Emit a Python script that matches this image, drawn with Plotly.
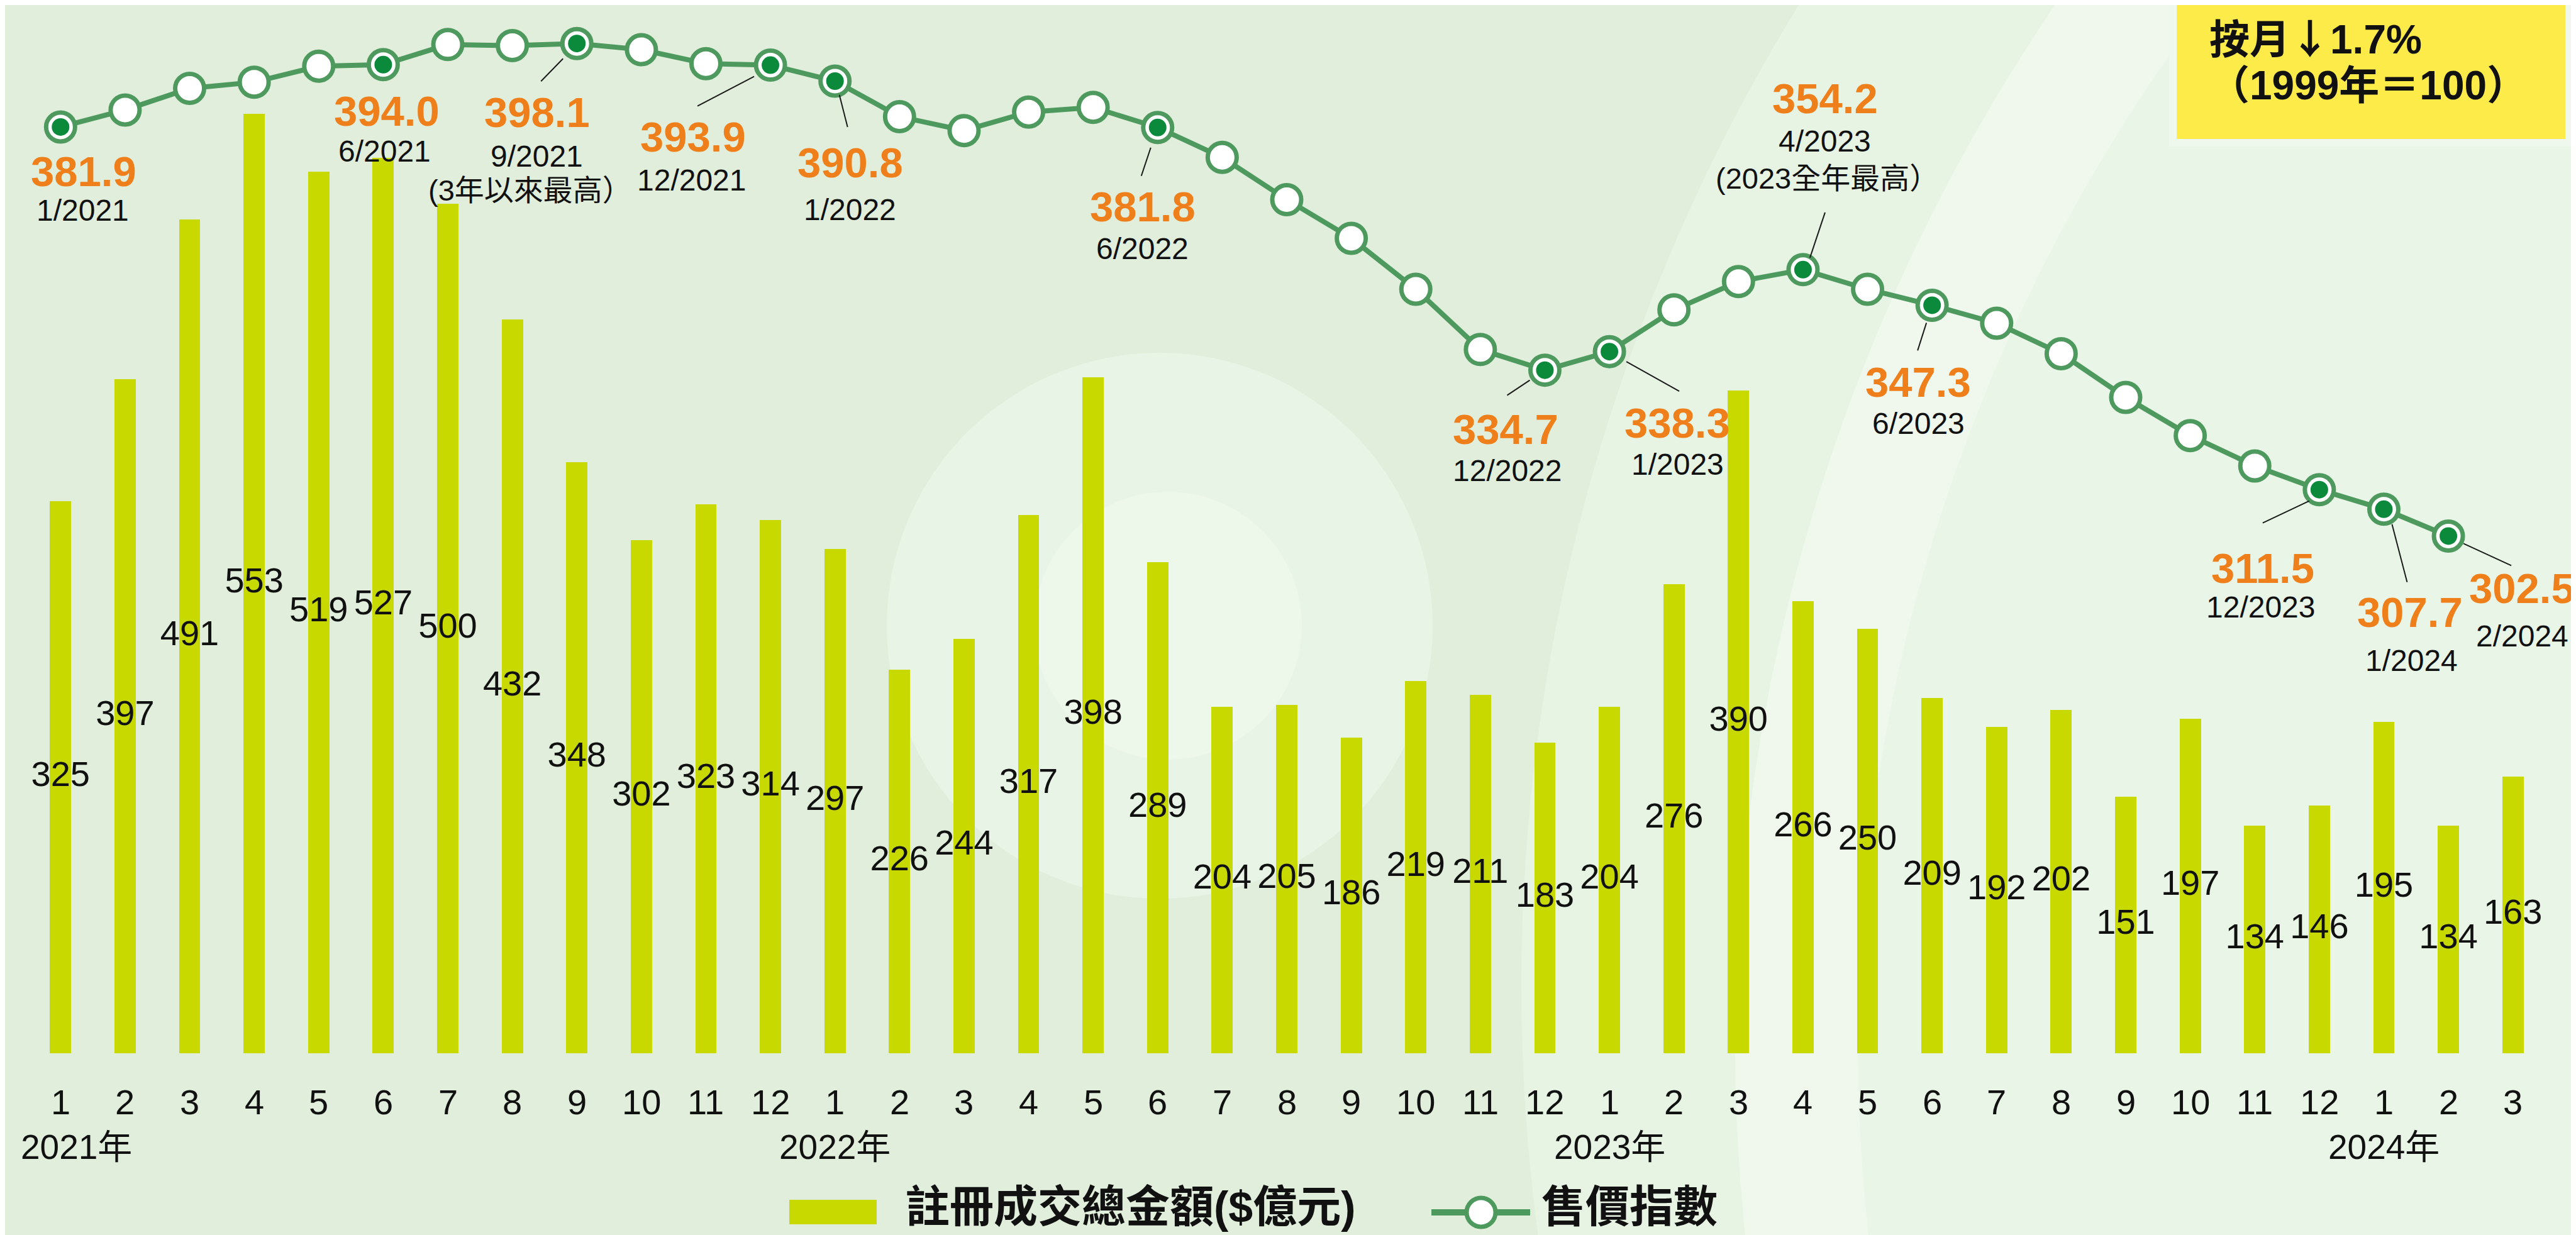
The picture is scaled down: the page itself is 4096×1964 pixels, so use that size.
import plotly.graph_objects as go

# ---------------- data ----------------
month_labels = ["1", "2", "3", "4", "5", "6", "7", "8", "9", "10", "11", "12",
                "1", "2", "3", "4", "5", "6", "7", "8", "9", "10", "11", "12",
                "1", "2", "3", "4", "5", "6", "7", "8", "9", "10", "11", "12",
                "1", "2", "3"]
year_labels = ["2021年", "2022年", "2023年", "2024年"]
year_start = [0, 12, 24, 36]
first_year = 2021

amounts = [325, 397, 491, 553, 519, 527, 500, 432, 348, 302, 323, 314,
           297, 226, 244, 317, 398, 289, 204, 205, 186, 219, 211, 183,
           204, 276, 390, 266, 250, 209, 192, 202, 151, 197, 134, 146,
           195, 134, 163]

price_index = [381.9, 385.2, 389.4, 390.6, 393.7, 394.0, 397.9, 397.7, 398.1, 396.9, 394.2, 393.9,
               390.8, 383.9, 381.2, 384.8, 385.7, 381.8, 376.0, 367.8, 360.3, 350.4, 338.7, 334.7,
               338.3, 346.4, 351.9, 354.2, 350.4, 347.3, 343.8, 337.9, 329.4, 322.0, 316.1, 311.5,
               307.7, 302.5]

highlighted = [0, 5, 8, 11, 12, 17, 23, 24, 27, 29, 35, 36, 37]
notes = {8: "(3年以來最高）", 27: "(2023全年最高）"}
box_lines = ["按月<span style=\"font-family:'Noto Sans CJK TC'\">↓</span>1.7%", "（1999年＝100）"]
legend_names = ["註冊成交總金額($億元)", "售價指數"]

# ---------------- layout / style ----------------
W, H = 4096, 1964
L, R, T, B = 37, 57, 0, 297
PW, PH = W - L - R, H - T - B

BG = "#e0eedb"
BAR = "#c8d900"
GREEN = "#4e9a5e"
DARK = "#0b8a3c"
ORANGE = "#ef7f1a"
FONT = "Liberation Sans, Noto Sans CJK TC, sans-serif"

# label offsets (output pixels, dx right, dy down) relative to the marker
label_offsets = {
    0: dict(val=(37, 71), date=(35, 133)),
    5: dict(val=(6, 74), date=(2, 138)),
    8: dict(val=(-63, 109), date=(-64, 179), note=(-74, 233), lead=((-22, 24), (-57, 60))),
    11: dict(val=(-123, 114), date=(-125, 183), lead=((-26, 18), (-116, 65))),
    12: dict(val=(24, 129), date=(24, 204), lead=((7, 22), (20, 73))),
    17: dict(val=(-24, 126), date=(-24, 193), lead=((-11, 32), (-26, 77))),
    23: dict(val=(-62, 94), date=(-59, 160), lead=((-24, 16), (-60, 40))),
    24: dict(val=(108, 113), date=(108, 179), lead=((27, 16), (111, 63))),
    27: dict(val=(35, -272), date=(35, -204), note=(39, -145), lead=((11, -19), (35, -91))),
    29: dict(val=(-22, 122), date=(-22, 188), lead=((-9, 28), (-23, 72))),
    35: dict(val=(-90, 125), date=(-93, 187), lead=((-16, 18), (-90, 53))),
    36: dict(val=(42, 164), date=(44, 241), lead=((13, 24), (37, 116))),
    37: dict(val=(117, 83), date=(117, 159), lead=((24, 12), (100, 47))),
}


def to_paper(xp, yp):
    return (xp - L) / PW, 1 - (yp - T) / PH


def circle_shape(cx, cy, r, color, line=None, lw=0, layer="below"):
    x0, y1 = to_paper(cx - r, cy - r)
    x1, y0 = to_paper(cx + r, cy + r)
    return dict(type="circle", xref="paper", yref="paper", x0=x0, x1=x1, y0=y0, y1=y1,
                fillcolor=color, line=dict(color=line or color, width=lw), layer=layer)


def rect_shape(xa, ya, xb, yb, color, layer="below"):
    x0, y1 = to_paper(xa, ya)
    x1, y0 = to_paper(xb, yb)
    return dict(type="rect", xref="paper", yref="paper", x0=x0, x1=x1, y0=y0, y1=y1,
                fillcolor=color, line=dict(width=0), layer=layer)


n = len(amounts)
xs = list(range(n))
xi = list(range(len(price_index)))

fig = go.Figure()

fig.add_trace(go.Bar(x=xs, y=amounts, width=0.33, marker=dict(color=BAR, line=dict(width=0)),
                     yaxis="y", showlegend=False, hoverinfo="skip"))

fig.add_trace(go.Scatter(x=xs, y=[v / 2 for v in amounts], mode="text",
                         text=[str(v) for v in amounts],
                         textfont=dict(size=56, color="#111111", family=FONT),
                         yaxis="y", showlegend=False, cliponaxis=False, hoverinfo="skip"))

fig.add_trace(go.Scatter(x=xi, y=price_index, mode="lines+markers", yaxis="y2",
                         line=dict(color=GREEN, width=8),
                         marker=dict(size=46, color="white", line=dict(color=GREEN, width=7)),
                         showlegend=False, cliponaxis=False, hoverinfo="skip"))

fig.add_trace(go.Scatter(x=highlighted, y=[price_index[i] for i in highlighted], mode="markers",
                         yaxis="y2", marker=dict(size=28, color=DARK, line=dict(width=0)),
                         showlegend=False, cliponaxis=False, hoverinfo="skip"))

shapes = []
# background decorations
shapes.append(circle_shape(5387, 1559, 2976, "#e7f4e4"))
shapes.append(circle_shape(5685, 1651, 2934, "#f0f8ee"))
shapes.append(circle_shape(5685, 1651, 2739, "#e9f5e7"))
shapes.append(circle_shape(1836, 987, 434, "#e8f4e5"))
shapes.append(circle_shape(1849, 987, 213, "#edf7ea"))
# yellow box
shapes.append(rect_shape(3441, -10, 4083, 225, "#eef8ec"))
shapes.append(rect_shape(3453, -10, 4071, 213, "#fdeb4a"))

# leader lines
for i, off in label_offsets.items():
    if "lead" in off:
        (a, b), (c, d) = off["lead"]
        shapes.append(dict(type="line", xref="x", yref="y2", xsizemode="pixel", ysizemode="pixel",
                           xanchor=i, yanchor=price_index[i], x0=a, y0=-b, x1=c, y1=-d,
                           line=dict(color="#1a1a1a", width=2), layer="above"))

# legend graphics
LEG_Y = 1920
shapes.append(rect_shape(1247, LEG_Y - 20, 1386, LEG_Y + 19, BAR, layer="above"))
lx0, ly = to_paper(2268, LEG_Y)
lx1, _ = to_paper(2425, LEG_Y)
shapes.append(dict(type="line", xref="paper", yref="paper", x0=lx0, x1=lx1, y0=ly, y1=ly,
                   line=dict(color=GREEN, width=10), layer="above"))
shapes.append(circle_shape(2347, LEG_Y, 23, "white", line=GREEN, lw=7, layer="above"))

annotations = []
# month ticks
for i, m in enumerate(month_labels):
    annotations.append(dict(x=i, y=0, xref="x", yref="y", text=m, showarrow=False,
                            yshift=-77, xanchor="center", yanchor="middle",
                            font=dict(size=56, color="#111111", family=FONT)))
# year labels
for k, (lab, pos) in enumerate(zip(year_labels, year_start)):
    annotations.append(dict(x=pos, y=0, xref="x", yref="y", text=lab, showarrow=False,
                            yshift=-149, xshift=25 if k == 0 else 0,
                            xanchor="center", yanchor="middle",
                            font=dict(size=55, color="#111111", family=FONT)))

# index labels
for i, off in label_offsets.items():
    v = price_index[i]
    yr = first_year + i // 12
    mo = i % 12 + 1
    dx, dy = off["val"]
    annotations.append(dict(x=i, y=v, xref="x", yref="y2", text=f"{v:.1f}", showarrow=False,
                            xshift=dx, yshift=-dy, xanchor="center", yanchor="middle",
                            font=dict(size=67, color=ORANGE, family=FONT, weight="bold")))
    dx, dy = off["date"]
    annotations.append(dict(x=i, y=v, xref="x", yref="y2", text=f"{mo}/{yr}", showarrow=False,
                            xshift=dx, yshift=-dy, xanchor="center", yanchor="middle",
                            font=dict(size=48, color="#111111", family=FONT)))
    if i in notes:
        dx, dy = off["note"]
        annotations.append(dict(x=i, y=v, xref="x", yref="y2", text=notes[i], showarrow=False,
                                xshift=dx, yshift=-dy, xanchor="center", yanchor="middle",
                                font=dict(size=47, color="#111111", family=FONT)))

# yellow box text
for txt, yy in zip(box_lines, [49, 128]):
    px_, py_ = to_paper(3503, yy)
    annotations.append(dict(x=px_, y=py_, xref="paper", yref="paper", text=txt, showarrow=False,
                            xanchor="left", yanchor="middle",
                            font=dict(size=64, color="#111111", family=FONT, weight="bold")))

# legend texts
for txt, xx in zip(legend_names, [1430, 2441]):
    px_, py_ = to_paper(xx, 1912)
    annotations.append(dict(x=px_, y=py_, xref="paper", yref="paper", text=txt, showarrow=False,
                            xanchor="left", yanchor="middle",
                            font=dict(size=70, color="#111111", family=FONT, weight="bold")))

# y2 range chosen so that index 398.1 sits 61 px below top at 8.192 px/unit
fig.update_layout(
    width=W, height=H,
    margin=dict(l=L, r=R, t=T, b=B, pad=0),
    paper_bgcolor=BG, plot_bgcolor="rgba(0,0,0,0)",
    font=dict(family=FONT),
    xaxis=dict(range=[-0.5, n - 0.5], visible=False, fixedrange=True),
    yaxis=dict(range=[0, 617.1], visible=False, fixedrange=True),
    yaxis2=dict(range=[202.1, 405.57], overlaying="y", visible=False, fixedrange=True),
    shapes=shapes,
    annotations=annotations,
    bargap=0,
    showlegend=False,
)

fig.write_html("out.html")
